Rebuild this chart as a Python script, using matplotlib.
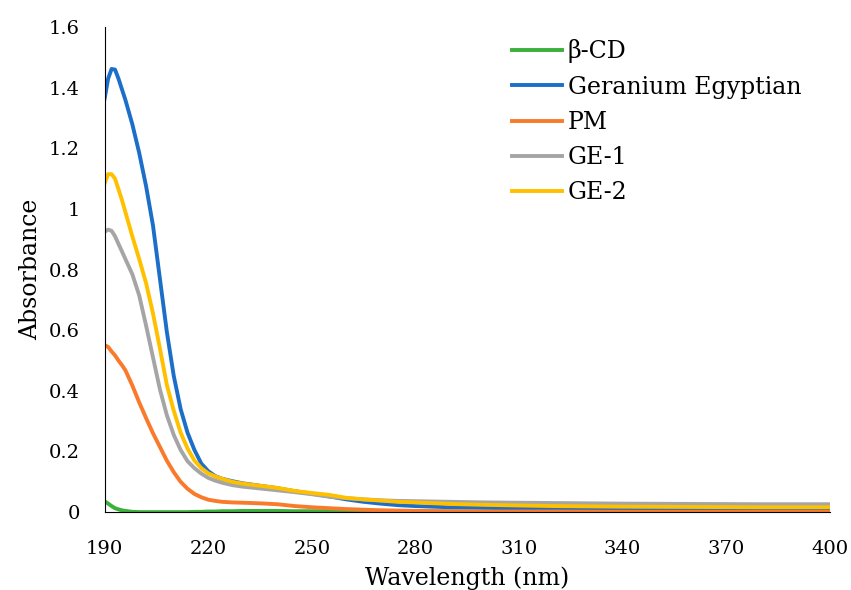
import matplotlib.pyplot as plt

# wavelength grid (nm) and absorbance values
wl = [190, 191, 192, 193, 194, 195, 196, 198, 200, 202, 204, 206, 208, 210, 212, 214, 216, 218, 220,
      222, 224, 227, 230, 235, 240, 245, 250, 255, 260, 265, 270, 275, 280, 290, 300, 320, 340, 360, 380, 400]

beta_cd = [0.036, 0.028, 0.02, 0.013, 0.009, 0.006, 0.004, 0.001, 0.0, 0.0, 0.0, 0.0, 0.0, 0.0, 0.0, 0.0, 0.001, 0.001, 0.002,
           0.002, 0.003, 0.003, 0.004, 0.004, 0.004, 0.003, 0.003, 0.003, 0.003, 0.002, 0.002, 0.002, 0.002, 0.002, 0.001, 0.001, 0.001, 0.001, 0.001, 0.001]
geranium = [1.365, 1.43, 1.462, 1.46, 1.43, 1.395, 1.36, 1.28, 1.185, 1.075, 0.945, 0.77, 0.595, 0.45, 0.34, 0.262, 0.205, 0.16, 0.135,
            0.119, 0.11, 0.102, 0.095, 0.087, 0.079, 0.069, 0.061, 0.052, 0.042, 0.034, 0.028, 0.023, 0.02, 0.016, 0.014, 0.011, 0.009, 0.008, 0.008, 0.007]
pm = [0.551, 0.545, 0.53, 0.517, 0.5, 0.485, 0.468, 0.418, 0.362, 0.31, 0.26, 0.215, 0.17, 0.132, 0.1, 0.077, 0.06, 0.049, 0.041,
      0.037, 0.034, 0.032, 0.031, 0.029, 0.026, 0.02, 0.016, 0.013, 0.01, 0.008, 0.006, 0.005, 0.004, 0.003, 0.002, 0.002, 0.001, 0.001, 0.001, 0.001]
ge1 = [0.925, 0.932, 0.928, 0.91, 0.885, 0.86, 0.835, 0.785, 0.715, 0.615, 0.51, 0.405, 0.32, 0.255, 0.205, 0.168, 0.145, 0.127, 0.113,
       0.104, 0.097, 0.089, 0.084, 0.078, 0.072, 0.066, 0.059, 0.051, 0.046, 0.042, 0.039, 0.037, 0.036, 0.034, 0.032, 0.03, 0.028, 0.027, 0.026, 0.026]
ge2 = [1.085, 1.115, 1.115, 1.1, 1.065, 1.03, 0.99, 0.91, 0.835, 0.755, 0.655, 0.54, 0.42, 0.335, 0.262, 0.21, 0.17, 0.145, 0.128,
       0.118, 0.11, 0.1, 0.094, 0.087, 0.08, 0.07, 0.063, 0.057, 0.047, 0.042, 0.038, 0.034, 0.032, 0.027, 0.024, 0.02, 0.018, 0.017, 0.016, 0.016]

labels = ["β-CD", "Geranium Egyptian", "PM", "GE-1", "GE-2"]
colors = ["#3BB03B", "#1C6FC9", "#FA7A2C", "#A5A5A5", "#FFC000"]
series = [beta_cd, geranium, pm, ge1, ge2]

plt.rcParams['font.family'] = ['DejaVu Serif']

fig = plt.figure(figsize=(8.51, 5.9), dpi=100)
ax = fig.add_axes([0.123, 0.132, 0.852, 0.822])

for vals, lab, col in zip(series, labels, colors):
    ax.plot(wl, vals, color=col, linewidth=2.8, label=lab)

ax.set_xlim(190, 400)
ax.set_ylim(0, 1.6)
ax.set_xticks(range(190, 401, 30))
ax.set_yticks([0, 0.2, 0.4, 0.6, 0.8, 1.0, 1.2, 1.4, 1.6])
ax.set_yticklabels(["0", "0.2", "0.4", "0.6", "0.8", "1", "1.2", "1.4", "1.6"])
ax.tick_params(axis='x', length=0, labelsize=14, pad=20)
ax.tick_params(axis='y', length=0, labelsize=14, pad=18)
ax.spines['top'].set_visible(False)
ax.spines['right'].set_visible(False)
ax.spines['left'].set_linewidth(0.8)
ax.spines['bottom'].set_linewidth(0.8)

ax.set_xlabel("Wavelength (nm)", fontsize=17, labelpad=6)
ax.set_ylabel("Absorbance", fontsize=17, labelpad=5)

ax.legend(loc='upper left', bbox_to_anchor=(0.562, 0.975), frameon=False, fontsize=17,
          handlelength=2.1, handletextpad=0.25, labelspacing=0.52, borderaxespad=0, borderpad=0)

fig.savefig("out.png", dpi=100)
